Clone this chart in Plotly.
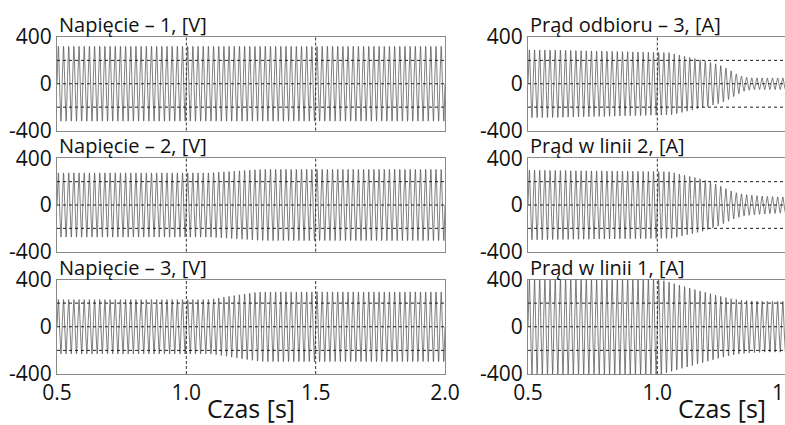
import numpy as np
import plotly.graph_objects as go

# ---- data (peak amplitude of each 50 Hz cycle) ----
freq_hz = 50
t_start = 0.5
n_cycles = 75  # 0.5 s .. 2.0 s

napiecie_1 = [320] * 75
napiecie_2 = [275] * 30 + [278, 281, 284, 287, 290, 293, 296, 299, 302, 304] + [305] * 35
napiecie_3 = [230] * 30 + [236, 243, 250, 257, 264, 271, 278, 284, 290, 294] + [295] * 35

prad_odbioru_3 = ([290, 290, 289, 289, 288, 288, 287, 286, 285, 284, 283, 282, 281, 280, 280]
                  + [278, 277, 276, 275, 274, 273, 272, 271, 270, 269, 268, 267, 266]
                  + [255, 245, 235, 225, 215, 205, 195, 182, 170, 155]
                  + [135, 110, 85, 65, 55] + [50] * 32)
prad_linii_2 = ([298, 298, 297, 297, 296, 296, 295, 295, 294, 294, 293, 293, 292, 292, 292]
                + [291, 291, 290, 290, 289, 289, 288, 288, 287, 287, 286, 286, 285]
                + [275, 265, 255, 245, 235, 225, 210, 195, 180, 160]
                + [140, 120, 105, 95, 88, 84, 80, 77, 74, 72, 70, 68] + [66] * 25)
prad_linii_1 = ([400] * 26
                + [390, 378, 365, 352, 340, 328, 315, 303, 292, 280]
                + [268, 257, 247, 238, 231, 226, 222, 219, 217, 215] + [215] * 29)

titles = ["Napięcie – 1, [V]", "Prąd odbioru – 3, [A]",
          "Napięcie – 2, [V]", "Prąd w linii 2, [A]",
          "Napięcie – 3, [V]", "Prąd w linii 1, [A]"]
series = [napiecie_1, prad_odbioru_3, napiecie_2, prad_linii_2, napiecie_3, prad_linii_1]

x_tickvals = [0.5, 1.0, 1.5, 2.0]
x_ticktext = ["0.5", "1.0", "1.5", "2.0"]
y_tickvals = [-400, 0, 400]
y_ticktext = ["-400", "0", "400"]
x_grid = [1.0, 1.5]
y_grid = [-200, 0, 200]
x_title = "Czas [s]"

# ---- build waveforms ----
pts = 32
k = np.arange(n_cycles * pts + 1)
t = t_start + k / (pts * freq_hz)
cyc = np.minimum(k // pts, n_cycles - 1)
carrier = np.sin(2 * np.pi * freq_hz * (t - t_start))

W, H = 940, 425
x_dom = [[57 / W, 445 / W], [528 / W, 916 / W]]
rows_px = [(37, 130.5), (158.3, 251.7), (279.5, 374)]
y_dom = [[1 - b / H, 1 - a / H] for a, b in rows_px]

FONT = "Open Sans"
GRID = "#1e1e1e"
fig = go.Figure()
layout = {}
annotations = []
shapes = []
for i, (ttl, amp) in enumerate(zip(titles, series)):
    r, c = divmod(i, 2)
    n = i + 1
    xa = "x" if n == 1 else f"x{n}"
    ya = "y" if n == 1 else f"y{n}"
    y = np.asarray(amp)[cyc] * carrier
    fig.add_trace(go.Scatter(x=t, y=y, mode="lines", xaxis=xa, yaxis=ya,
                             line=dict(color="#4a4a4a", width=0.7),
                             showlegend=False, hoverinfo="skip"))
    layout[f"xaxis{'' if n == 1 else n}"] = dict(
        domain=x_dom[c], range=[0.5, 2.0], anchor=ya, automargin=False,
        tickvals=x_tickvals, ticktext=x_ticktext, showticklabels=(r == 2),
        ticks="", showgrid=False,
        showline=True, mirror=True, linecolor="#8a8a8a", linewidth=1, zeroline=False,
        tickfont=dict(family=FONT, size=21, color="#111"),
        title=dict(text=x_title if r == 2 else "", font=dict(family=FONT, size=25, color="#111"),
                   standoff=5),
    )
    layout[f"yaxis{'' if n == 1 else n}"] = dict(
        domain=y_dom[r], range=[-400, 400], anchor=xa, automargin=False,
        tickvals=y_tickvals, ticktext=y_ticktext, ticks="", showgrid=False,
        showline=True, mirror=True, linecolor="#8a8a8a", linewidth=1, zeroline=False,
        tickfont=dict(family=FONT, size=21, color="#111"),
    )
    for gx in x_grid:
        shapes.append(dict(type="line", xref=xa, yref=f"{ya} domain", x0=gx, x1=gx, y0=0, y1=1,
                           layer="above", line=dict(color=GRID, width=0.9, dash="3px,2px")))
    for gy in y_grid:
        shapes.append(dict(type="line", xref=f"{xa} domain", yref=ya, x0=0, x1=1, y0=gy, y1=gy,
                           layer="above", line=dict(color=GRID, width=1, dash="dot")))
    annotations.append(dict(text=ttl, xref="paper", yref="paper", x=x_dom[c][0], y=y_dom[r][1],
                            xanchor="left", yanchor="bottom", showarrow=False, yshift=-3,
                            font=dict(family=FONT, size=20, color="#111")))

fig.update_layout(**layout)
fig.update_layout(width=W, height=H, margin=dict(l=0, r=0, t=0, b=0),
                  paper_bgcolor="white", plot_bgcolor="white",
                  annotations=annotations, shapes=shapes, showlegend=False)

fig.write_html("out.html", config={"displayModeBar": False},
               post_script="document.documentElement.style.overflow='hidden';"
                           "document.body.style.overflow='hidden';document.body.style.margin='0';")
